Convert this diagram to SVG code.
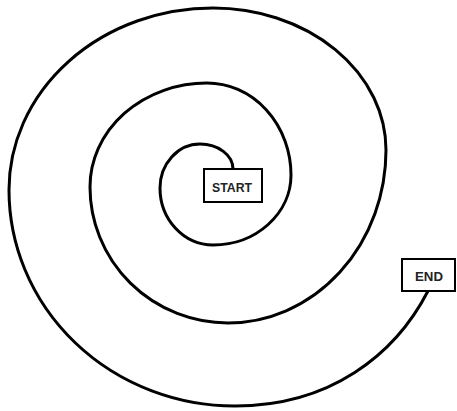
<svg xmlns="http://www.w3.org/2000/svg" width="457" height="411" viewBox="0 0 457 411">
<style>
.line{fill:none;stroke:#000;stroke-width:3;stroke-linecap:round;stroke-linejoin:round}
.box{fill:#fff;stroke:#000;stroke-width:2}
.lbl{font-family:"Liberation Sans",Arial,sans-serif;font-weight:bold;font-size:13px;fill:#222;text-anchor:middle}
</style>
<rect width="457" height="411" fill="#fff"/>
<g id="connectors">
<path class="line" d="M233,169 A33,25 0 0 0 200,144 A40,44 0 0 0 160,188 A53,57 0 0 0 213,245 A78,70 0 0 0 291,175 A84,92 0 0 0 207,83 A117,104 0 0 0 90,187 A138,136 0 0 0 228,323 A158,173 0 0 0 386,150 A173,142 0 0 0 213,8 A204,182 0 0 0 9,190 A226,216 0 0 0 235,406 C330,406 395,355 428,291"/>
</g>
<g id="start">
<rect class="box" x="204" y="169" width="58" height="33"/>
<text class="lbl" x="232" y="191.5" textLength="40" lengthAdjust="spacingAndGlyphs">START</text>
</g>
<g id="end">
<rect class="box" x="402" y="259" width="53" height="32"/>
<text class="lbl" x="429" y="281" textLength="28" lengthAdjust="spacingAndGlyphs">END</text>
</g>
</svg>
